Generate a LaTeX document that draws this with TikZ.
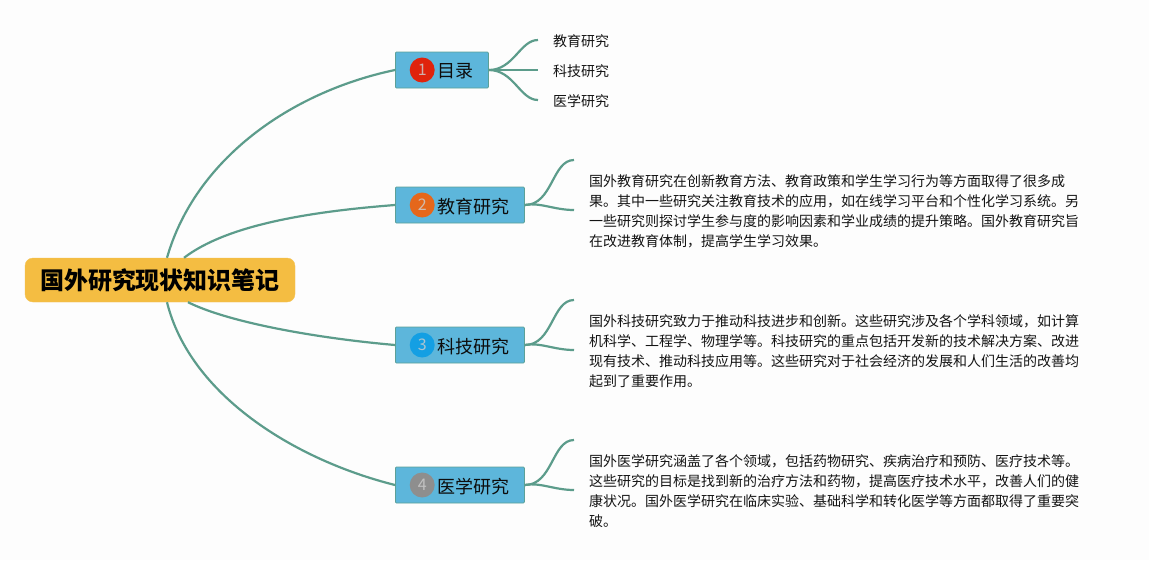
\documentclass[tikz,border=0pt]{standalone}
\usepackage{xcolor}
\usepackage{fontspec}
\setmainfont{Noto Sans CJK SC}
\usetikzlibrary{positioning}
\definecolor{pagebg}{HTML}{FDFDFD}
\definecolor{rootfill}{HTML}{F4BD42}
\definecolor{topicfill}{HTML}{5DB6DB}
\definecolor{branchcol}{HTML}{5C9C8B}
\definecolor{badgeA}{HTML}{E0230C}
\definecolor{badgeB}{HTML}{E5671B}
\definecolor{badgeC}{HTML}{149FE3}
\definecolor{badgeD}{HTML}{8E8E8E}

\begin{document}
\begin{tikzpicture}[
        x=1pt, y=-1pt,
        root/.style={fill=rootfill, draw=rootfill!90!white, rounded corners=8pt, minimum width=270pt, minimum height=44pt, inner sep=0pt, font=\fontsize{24}{28}\selectfont\bfseries, text=black},
        topic/.style={draw=branchcol!85!topicfill, line width=0.8pt, fill=topicfill, rounded corners=1pt, minimum height=36pt, inner sep=0pt, anchor=west},
        badge/.style={circle, fill=#1, text=#1!35!gray!50!white, minimum size=25pt, inner sep=0pt, font=\fontsize{16}{18}\selectfont},
        title/.style={font=\fontsize{18}{22}\selectfont, text=black!95, inner sep=0pt, yshift=-1.5pt},
        leaf/.style={font=\fontsize{14}{18}\selectfont, text=black!92, inner xsep=15pt, inner ysep=0pt, anchor=west, yshift=-1.5pt},
        para/.style={font=\fontsize{14}{20}\selectfont, text=black!92, align=left, inner sep=0pt, anchor=north west},
        trunk/.style={branchcol, line width=2.2pt},
        twig/.style={branchcol, line width=2.2pt},
    ]
    % Page
    \fill[pagebg] (0,0) rectangle (1149,560);
    \useasboundingbox (0,0) rectangle (1149,560);

    % Root
    \node[root] (root) at (160,280) {\raisebox{-1.5pt}{国外研究现状知识笔记}};

    % Topics
    \node[topic, minimum width=93pt] (toc) at (395,70) {};
    \node[topic, minimum width=129pt] (edu) at (395,205) {};
    \node[topic, minimum width=129pt] (tech) at (395,345) {};
    \node[topic, minimum width=129pt] (med) at (395,485) {};

    % Badges
    \node[badge=badgeA, right=14.5pt of toc.west] (numa) {1};
    \node[badge=badgeB, right=14.5pt of edu.west] (numb) {2};
    \node[badge=badgeC, right=14.5pt of tech.west] (numc) {3};
    \node[badge=badgeD, right=14.5pt of med.west] (numd) {4};

    % Topic titles
    \node[title, right=2.5pt of numa] (toctitle) {目录};
    \node[title, right=2.5pt of numb] (edutitle) {教育研究};
    \node[title, right=2.5pt of numc] (techtitle) {科技研究};
    \node[title, right=2.5pt of numd] (medtitle) {医学研究};

    % Contents leaves
    \node[leaf] (leafa) at (538,40) {教育研究};
    \node[leaf] (leafb) at (538,70) {科技研究};
    \node[leaf] (leafc) at (538,100) {医学研究};

    % Paragraphs
    \node[para] (paraedu) at (589,174) {国外教育研究在创新教育方法、教育政策和学生学习行为等方面取得了很多成\\果。其中一些研究关注教育技术的应用，如在线学习平台和个性化学习系统。另\\一些研究则探讨学生参与度的影响因素和学业成绩的提升策略。国外教育研究旨\\在改进教育体制，提高学生学习效果。};
    \node[para] (paratech) at (589,314) {国外科技研究致力于推动科技进步和创新。这些研究涉及各个学科领域，如计算\\机科学、工程学、物理学等。科技研究的重点包括开发新的技术解决方案、改进\\现有技术、推动科技应用等。这些研究对于社会经济的发展和人们生活的改善均\\起到了重要作用。};
    \node[para] (paramed) at (589,454) {国外医学研究涵盖了各个领域，包括药物研究、疾病治疗和预防、医疗技术等。\\这些研究的目标是找到新的治疗方法和药物，提高医疗技术水平，改善人们的健\\康状况。国外医学研究在临床实验、基础科学和转化医学等方面都取得了重要突\\破。};

    % Free ends of the paragraph branches
    \coordinate (eduup) at (574,160);
    \coordinate (edulow) at (574,210);
    \coordinate (techup) at (574,300);
    \coordinate (techlow) at (574,350);
    \coordinate (medup) at (574,440);
    \coordinate (medlow) at (574,490);

    % Root connections
    \draw[trunk] ([xshift=7pt]root.north) .. controls +(28,-98) and +(-105,22) .. (toc.west);
    \draw[trunk] ([xshift=24pt]root.north) .. controls +(42,-32) and +(-90,7) .. (edu.west);
    \draw[trunk] ([xshift=28pt]root.south) .. controls +(40,20) and +(-80,-7) .. (tech.west);
    \draw[trunk] ([xshift=7pt]root.south) .. controls +(23,93) and +(-100,-25) .. (med.west);

    % Contents branches
    \draw[twig] (toc.east) .. controls +(25,0) and +(-18,0) .. ([yshift=1.5pt]leafa.west);
    \draw[twig] (toc.east) -- ([yshift=1.5pt]leafb.west);
    \draw[twig] (toc.east) .. controls +(25,0) and +(-18,0) .. ([yshift=1.5pt]leafc.west);

    % Paragraph branches
    \draw[twig] (edu.east) .. controls +(28,0) and +(-22,0) .. (eduup);
    \draw[twig] (edu.east) .. controls +(15,-3) and +(-20,0) .. (edulow);
    \draw[twig] (tech.east) .. controls +(28,0) and +(-22,0) .. (techup);
    \draw[twig] (tech.east) .. controls +(15,-3) and +(-20,0) .. (techlow);
    \draw[twig] (med.east) .. controls +(28,0) and +(-22,0) .. (medup);
    \draw[twig] (med.east) .. controls +(15,-3) and +(-20,0) .. (medlow);
\end{tikzpicture}
\end{document}
